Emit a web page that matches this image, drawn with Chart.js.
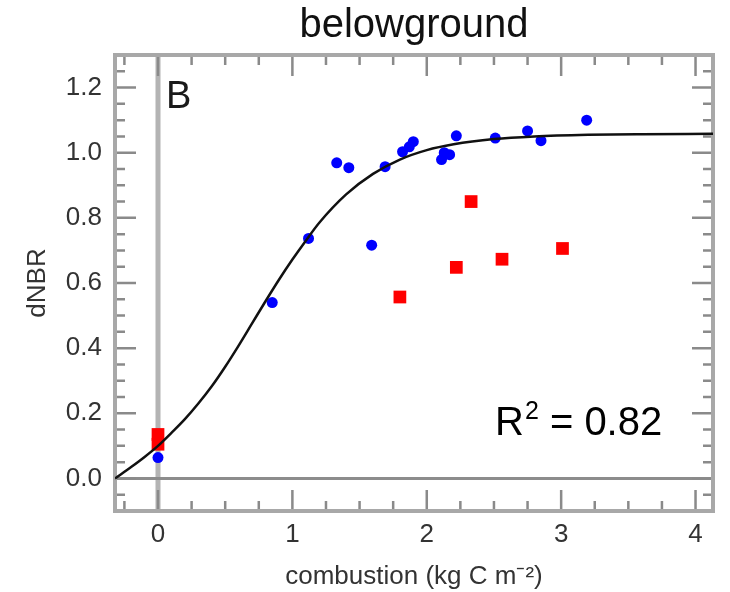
<!DOCTYPE html>
<html>
<head>
<meta charset="utf-8">
<script src="https://cdn.jsdelivr.net/npm/chart.js@4.4.0/dist/chart.umd.min.js"></script>
<style>
  body { margin: 0; background: #fff; }
</style>
</head>
<body>
<canvas id="chart" width="730" height="592"></canvas>
<script>
const xTicks = [0, 1, 2, 3, 4];
const yTicks = [0, 0.2, 0.4, 0.6, 0.8, 1.0, 1.2];

// blue circles
const blueX = [0, 0.85, 1.12, 1.33, 1.42, 1.59, 1.69, 1.82, 1.87, 1.9, 2.11, 2.13, 2.17, 2.22, 2.51, 2.75, 2.85, 3.19];
const blueY = [0.064, 0.54, 0.737, 0.969, 0.954, 0.716, 0.957, 1.003, 1.018, 1.034, 0.979, 1.0, 0.994, 1.052, 1.045, 1.067, 1.037, 1.1];

// red squares
const redX = [0, 0, 1.8, 2.22, 2.33, 2.56, 3.01];
const redY = [0.135, 0.105, 0.557, 0.648, 0.85, 0.673, 0.706];

// fitted curve
const fitX = [-0.32, -0.2, -0.1, 0, 0.1, 0.2, 0.3, 0.4, 0.5, 0.6, 0.7, 0.8, 0.9, 1.0, 1.1, 1.2, 1.4, 1.6, 1.8, 2.0, 2.2, 2.5, 2.8, 3.2, 3.6, 4.13];
const fitY = [0, 0.035, 0.066, 0.1, 0.14, 0.182, 0.23, 0.283, 0.343, 0.408, 0.476, 0.544, 0.61, 0.672, 0.73, 0.785, 0.872, 0.935, 0.979, 1.008, 1.026, 1.042, 1.05, 1.055, 1.057, 1.058];

const pts = (xs, ys) => xs.map((x, i) => ({ x: x, y: ys[i] }));

const font = "'Liberation Sans', Arial, sans-serif";

const frame = {
  id: "frame",
  beforeDatasetsDraw(chart) {
    const { ctx, chartArea: a } = chart;
    const sx = chart.scales.x, sy = chart.scales.y;
    ctx.save();

    // zero lines
    const x0 = sx.getPixelForValue(0);
    ctx.strokeStyle = "#b4b4b4";
    ctx.lineWidth = 5;
    ctx.beginPath();
    ctx.moveTo(x0, a.top);
    ctx.lineTo(x0, a.bottom);
    ctx.stroke();
    const y0 = sy.getPixelForValue(0);
    ctx.strokeStyle = "#8c8c8c";
    ctx.lineWidth = 3;
    ctx.beginPath();
    ctx.moveTo(a.left, y0);
    ctx.lineTo(a.right, y0);
    ctx.stroke();

    // inward ticks on all four sides
    ctx.strokeStyle = "#8a8a8a";
    ctx.lineWidth = 2.5;
    ctx.beginPath();
    for (let v = -0.25; v <= 4.01; v += 0.25) {
      const px = sx.getPixelForValue(v);
      const len = Math.abs(v - Math.round(v)) < 0.01 ? 21 : 10;
      ctx.moveTo(px, a.bottom); ctx.lineTo(px, a.bottom - len);
      ctx.moveTo(px, a.top); ctx.lineTo(px, a.top + len);
    }
    for (let v = -0.05; v <= 1.26; v += 0.05) {
      const py = sy.getPixelForValue(v);
      const r = Math.round(v * 100);
      const len = r % 20 === 0 ? 21 : 10;
      ctx.moveTo(a.left, py); ctx.lineTo(a.left + len, py);
      ctx.moveTo(a.right, py); ctx.lineTo(a.right - len, py);
    }
    ctx.stroke();

    // frame
    ctx.strokeStyle = "#a8a8a8";
    ctx.lineWidth = 4;
    ctx.strokeRect(a.left, a.top, a.right - a.left, a.bottom - a.top);
    ctx.restore();
  },
  afterDraw(chart) {
    const ctx = chart.ctx;
    ctx.save();
    ctx.fillStyle = "#1a1a1a";
    ctx.textBaseline = "alphabetic";
    ctx.textAlign = "left";
    ctx.font = "38px " + font;
    ctx.fillText("B", 166, 108);

    // R² = 0.82
    let x = 495;
    ctx.fillStyle = "#000";
    ctx.font = "40px " + font;
    ctx.fillText("R", x, 435);
    x += ctx.measureText("R").width + 1;
    ctx.font = "25px " + font;
    ctx.fillText("2", x, 419);
    x += ctx.measureText("2").width;
    ctx.font = "40px " + font;
    ctx.fillText(" = 0.82", x, 435);
    ctx.restore();
  }
};

new Chart(document.getElementById("chart"), {
  type: "scatter",
  data: {
    datasets: [
      {
        label: "fit",
        data: pts(fitX, fitY),
        showLine: true,
        pointRadius: 0,
        borderColor: "#111",
        borderWidth: 2.5,
        cubicInterpolationMode: "monotone",
      },
      {
        label: "red",
        data: pts(redX, redY),
        pointStyle: "rect",
        pointRadius: 9,
        pointBorderWidth: 0,
        backgroundColor: "#ff0000",
        borderColor: "#ff0000",
      },
      {
        label: "blue",
        data: pts(blueX, blueY),
        pointRadius: 5.5,
        pointBorderWidth: 0,
        backgroundColor: "#0000ff",
        borderColor: "#0000ff",
      },
    ],
  },
  options: {
    responsive: false,
    animation: false,
    devicePixelRatio: 1,
    layout: { padding: { left: 0, right: 17, top: 0, bottom: 0 } },
    plugins: {
      legend: { display: false },
      tooltip: { enabled: false },
      title: {
        display: true,
        text: "belowground",
        fullSize: false,
        color: "#111",
        font: { family: font, size: 40, weight: "normal" },
        padding: { top: 2, bottom: 5 },
      },
    },
    scales: {
      x: {
        type: "linear",
        min: -0.32,
        max: 4.13,
        afterBuildTicks: (s) => { s.ticks = xTicks.map((v) => ({ value: v })); },
        afterFit: (s) => { s.height = 81; },
        grid: { display: false, drawTicks: false },
        border: { display: false },
        ticks: { color: "#333", padding: 8, font: { family: font, size: 26 } },
        title: {
          display: true,
          text: "combustion (kg C m⁻²)",
          color: "#333",
          font: { family: font, size: 26 },
          padding: { top: 0, bottom: 0 },
        },
      },
      y: {
        type: "linear",
        min: -0.1,
        max: 1.3,
        afterBuildTicks: (s) => { s.ticks = yTicks.map((v) => ({ value: v })); },
        afterFit: (s) => { s.width = 115; },
        grid: { display: false, drawTicks: false },
        border: { display: false },
        ticks: {
          color: "#333",
          padding: 13,
          font: { family: font, size: 26 },
          callback: (v) => v.toFixed(1),
        },
        title: {
          display: true,
          text: "dNBR",
          color: "#333",
          font: { family: font, size: 26 },
          padding: { top: 22, bottom: 0 },
        },
      },
    },
  },
  plugins: [frame],
});
</script>
</body>
</html>
